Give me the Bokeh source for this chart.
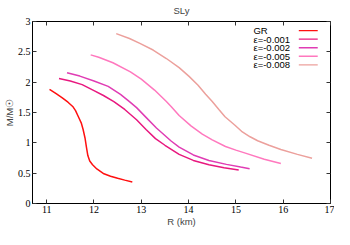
from bokeh.plotting import figure
from bokeh.models import LinearAxis, FixedTicker, Label, BoxAnnotation, Range1d, CustomLabelingPolicy
from bokeh.embed import file_html
from bokeh.resources import INLINE

# ---- data ----
r_gr = [11.06, 11.2, 11.33, 11.45, 11.55, 11.61, 11.67, 11.73, 11.77, 11.81, 11.84, 11.87, 11.91, 11.97, 12.06, 12.21, 12.35, 12.5, 12.65, 12.81]
m_gr = [1.88, 1.81, 1.74, 1.67, 1.60, 1.53, 1.43, 1.33, 1.22, 1.08, 0.93, 0.79, 0.70, 0.64, 0.57, 0.49, 0.45, 0.415, 0.385, 0.355]

r_e001 = [11.26, 11.5, 11.75, 12.0, 12.2, 12.42, 12.65, 12.9, 13.1, 13.3, 13.5, 13.8, 14.1, 14.43, 14.75, 15.06]
m_e001 = [2.06, 2.02, 1.96, 1.86, 1.78, 1.68, 1.55, 1.38, 1.22, 1.07, 0.96, 0.81, 0.71, 0.64, 0.59, 0.553]

r_e002 = [11.43, 11.7, 12.0, 12.3, 12.56, 12.75, 12.9, 13.1, 13.32, 13.63, 13.8, 14.1, 14.43, 14.8, 15.1, 15.29]
m_e002 = [2.155, 2.10, 2.02, 1.93, 1.80, 1.68, 1.58, 1.42, 1.245, 1.03, 0.93, 0.80, 0.71, 0.645, 0.60, 0.574]

r_e005 = [11.93, 12.1, 12.4, 12.77, 13.0, 13.28, 13.53, 13.63, 13.8, 14.05, 14.29, 14.5, 14.78, 15.0, 15.2, 15.6, 15.95]
m_e005 = [2.45, 2.41, 2.32, 2.17, 2.05, 1.87, 1.68, 1.60, 1.45, 1.28, 1.145, 1.05, 0.94, 0.88, 0.83, 0.73, 0.66]

r_e008 = [12.47, 12.75, 12.97, 13.25, 13.53, 13.8, 14.01, 14.2, 14.36, 14.5, 14.64, 14.77, 14.98, 15.12, 15.3, 15.46, 15.7, 15.95, 16.3, 16.61]
m_e008 = [2.80, 2.72, 2.64, 2.53, 2.39, 2.24, 2.095, 1.95, 1.80, 1.68, 1.55, 1.43, 1.29, 1.19, 1.10, 1.035, 0.96, 0.89, 0.81, 0.746]

series_names = ["GR", "ε=-0.001", "ε=-0.002", "ε=-0.005", "ε=-0.008"]
series_r = [r_gr, r_e001, r_e002, r_e005, r_e008]
series_m = [m_gr, m_e001, m_e002, m_e005, m_e008]
series_colors = ["#ff1010", "#e8187f", "#e03cb4", "#ff78be", "#eca09c"]

x_ticks = [11, 12, 13, 14, 15, 16, 17]
y_ticks = [0, 0.5, 1, 1.5, 2, 2.5, 3]
y_tick_labels = ["0", "0.5", "1", "1.5", "2", "2.5", "3"]

SANS = "Liberation Sans"
SERIF = "Liberation Serif"

p = figure(width=334, height=229, output_backend="svg", toolbar_location=None,
           x_range=Range1d(10.7, 17), y_range=Range1d(0, 3),
           min_border_left=0, min_border_right=3, min_border_top=0, min_border_bottom=0)
p.background_fill_color = "white"
p.border_fill_color = "white"
p.grid.visible = False
p.outline_line_color = "black"
p.outline_line_width = 1

p.title.text = "SLy"
p.title.align = "center"
p.title.text_font = SANS
p.title.text_font_size = "9.5px"
p.title.text_font_style = "normal"
p.title.standoff = 4
p.title.offset = 0

for ax in (p.xaxis[0], p.yaxis[0]):
    ax.major_tick_in = 4
    ax.major_tick_out = 0
    ax.minor_tick_line_color = None
    ax.axis_line_color = "black"
    ax.major_tick_line_color = "#333333"
    ax.major_label_text_font = SERIF
    ax.major_label_text_font_size = "10px"
    ax.major_label_text_line_height = 1.0
    ax.major_label_text_color = "black"
    ax.axis_label_text_font = SANS
    ax.axis_label_text_font_size = "9.5px"
    ax.axis_label_text_line_height = 1.0
    ax.axis_label_text_font_style = "normal"
    ax.axis_label_standoff = 0
    ax.major_label_standoff = 2

p.xaxis[0].ticker = FixedTicker(ticks=x_ticks)
p.yaxis[0].ticker = FixedTicker(ticks=y_ticks)
p.yaxis[0].major_label_overrides = {t: s for t, s in zip(y_ticks, y_tick_labels)}
p.xaxis[0].axis_label = "R (km)"
p.yaxis[0].axis_label = "M/M☉"

no_labels = CustomLabelingPolicy(code="return new Set()")
top = LinearAxis(ticker=FixedTicker(ticks=x_ticks), major_tick_in=4, major_tick_out=0,
                 minor_tick_line_color=None, axis_line_color=None,
                 major_tick_line_color="#333333", major_label_policy=no_labels,
                 major_label_standoff=0, major_label_text_font_size="1px")
right = LinearAxis(ticker=FixedTicker(ticks=y_ticks), major_tick_in=4, major_tick_out=0,
                   minor_tick_line_color=None, axis_line_color=None,
                   major_tick_line_color="#333333", major_label_policy=no_labels,
                   major_label_standoff=0, major_label_text_font_size="1px")
p.add_layout(top, "above")
p.add_layout(right, "right")

for r, m, c in zip(series_r, series_m, series_colors):
    p.line(r, m, line_color=c, line_width=1.5)

# legend (gnuplot style: text on the left, sample line on the right)
LEG_TEXT_X = 15.37
LEG_LINE_X0, LEG_LINE_X1 = 16.33, 16.73
LEG_Y0, LEG_DY, LEG_HALF = 2.85, 0.141, 0.011
for i, (name, c) in enumerate(zip(series_names, series_colors)):
    y = LEG_Y0 - i * LEG_DY
    p.add_layout(Label(x=LEG_TEXT_X, y=y, text=name, text_font=SANS, text_font_size="9.5px",
                       text_baseline="middle", text_align="left", text_color="black"))
    p.add_layout(BoxAnnotation(left=LEG_LINE_X0, right=LEG_LINE_X1, bottom=y - LEG_HALF,
                               top=y + LEG_HALF, fill_color=c, fill_alpha=1, line_alpha=0))

open("out.html", "w").write(file_html(p, INLINE))
